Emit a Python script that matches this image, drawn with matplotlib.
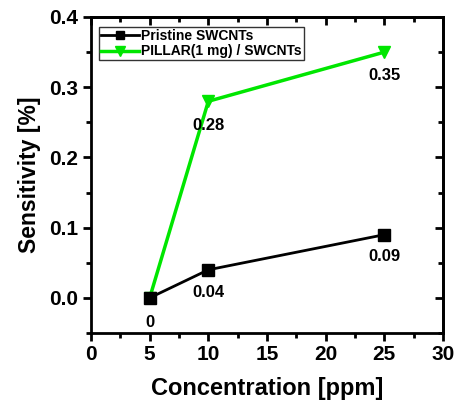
import matplotlib
matplotlib.use("Agg")
import matplotlib.pyplot as plt
from matplotlib.ticker import MultipleLocator

plt.rcParams['font.family'] = ['Liberation Sans', 'DejaVu Sans']
plt.rcParams['font.weight'] = 'bold'

conc = [5, 10, 25]
pristine = [0.0, 0.04, 0.09]
pillar = [0.0, 0.28, 0.35]
pristine_labels = ['0', '0.04', '0.09']
pillar_labels = ['', '0.28', '0.35']

fig = plt.figure(figsize=(4.57, 4.09), dpi=100)
ax = fig.add_axes([91/457, 1-333/409, (443-91)/457, (333-17)/409])

green = '#00e600'
ax.plot(conc, pristine, color='black', lw=2, marker='s', ms=8, label='Pristine SWCNTs', zorder=3)
ax.plot(conc, pillar, color=green, lw=2.5, marker='v', ms=9, label='PILLAR(1 mg) / SWCNTs', zorder=2)

offsets_p = [(0, -17.5), (0, -16.5), (0, -16)]
for x, y, t, o in zip(conc, pristine, pristine_labels, offsets_p):
    ax.annotate(t, (x, y), xytext=o, textcoords='offset points', ha='center', va='center',
                fontsize=12, fontweight='bold')
offsets_g = [(0, 0), (0, -17.5), (0, -17)]
for x, y, t, o in zip(conc, pillar, pillar_labels, offsets_g):
    if t:
        ax.annotate(t, (x, y), xytext=o, textcoords='offset points', ha='center', va='center',
                    fontsize=12, fontweight='bold')

ax.set_xlim(0, 30)
ax.set_ylim(-0.05, 0.4)
ax.xaxis.set_major_locator(MultipleLocator(5))
ax.xaxis.set_minor_locator(MultipleLocator(2.5))
ax.yaxis.set_major_locator(MultipleLocator(0.1))
ax.yaxis.set_minor_locator(MultipleLocator(0.05))
ax.set_yticks([0.0, 0.1, 0.2, 0.3, 0.4])
ax.set_yticklabels(['0.0', '0.1', '0.2', '0.3', '0.4'])

for s in ax.spines.values():
    s.set_linewidth(2)
ax.tick_params(which='major', direction='out', length=6, width=2, labelsize=15, pad=3)
ax.tick_params(which='minor', direction='out', length=3.5, width=2)
for lab in ax.get_xticklabels() + ax.get_yticklabels():
    lab.set_fontweight('bold')

ax2 = ax.secondary_xaxis('top')
ax2.xaxis.set_major_locator(MultipleLocator(5))
ax2.xaxis.set_minor_locator(MultipleLocator(2.5))
ax2.tick_params(which='major', direction='in', length=6, width=2, labeltop=False)
ax2.tick_params(which='minor', direction='in', length=3.5, width=2)
ax3 = ax.secondary_yaxis('right')
ax3.yaxis.set_major_locator(MultipleLocator(0.1))
ax3.yaxis.set_minor_locator(MultipleLocator(0.05))
ax3.tick_params(which='major', direction='in', length=6, width=2, labelright=False)
ax3.tick_params(which='minor', direction='in', length=3.5, width=2)
for a in (ax2, ax3):
    for s in a.spines.values():
        s.set_linewidth(2)

ax.set_xlabel('Concentration [ppm]', fontsize=17, fontweight='bold', labelpad=9)
ax.set_ylabel('Sensitivity [%]', fontsize=16.5, fontweight='bold', labelpad=6)

leg = ax.legend(loc='upper left', fontsize=10, frameon=True, fancybox=False,
                edgecolor='black', borderpad=0.15, handlelength=2.7, handletextpad=0.15,
                labelspacing=0.1, borderaxespad=0.6, markerscale=0.75,
                bbox_to_anchor=(0.0, 0.995))
leg.get_frame().set_linewidth(1)
for t in leg.get_texts():
    t.set_fontweight('bold')

fig.savefig('out.png', dpi=100)
